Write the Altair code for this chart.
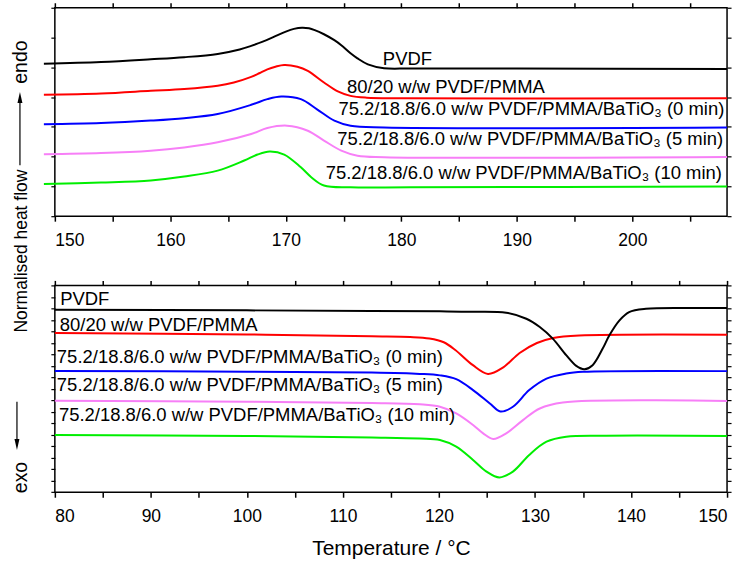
import altair as alt
import pandas as pd

FONT = "Liberation Sans"

SAMPLES = [
    "PVDF",
    "80/20 w/w PVDF/PMMA",
    "75.2/18.8/6.0 w/w PVDF/PMMA/BaTiO₃ (0 min)",
    "75.2/18.8/6.0 w/w PVDF/PMMA/BaTiO₃ (5 min)",
    "75.2/18.8/6.0 w/w PVDF/PMMA/BaTiO₃ (10 min)",
]
COLORS = ["#000000", "#ff0000", "#0000ff", "#f77ff7", "#00ee00"]

# ---- heating scans (melting endotherms), normalised heat flow, offset ----
heat_T_pvdf = [149.05, 154.0, 158.3, 161.2, 164.1, 166.0, 167.0, 168.0, 169.0, 170.0,
               170.7, 171.4, 172.0, 172.5, 173.3, 174.2, 174.8, 175.6, 176.2, 177.1,
               178.5, 180.8, 190.0, 208.2]
heat_q_pvdf = [5.12, 5.18, 5.27, 5.34, 5.45, 5.60, 5.72, 5.86, 6.03, 6.20,
               6.29, 6.33, 6.31, 6.25, 6.11, 5.91, 5.74, 5.47, 5.30, 5.10,
               4.97, 4.96, 4.96, 4.94]

heat_T_blend = [149.05, 154.0, 158.3, 161.2, 164.1, 165.5, 167.0, 167.7, 168.4, 169.1,
                169.85, 171.0, 171.9, 173.3, 174.5, 175.6, 177.0, 180.0, 208.2]
heat_q_blend = [4.08, 4.12, 4.21, 4.27, 4.38, 4.49, 4.68, 4.80, 4.93, 5.02,
                5.08, 5.02, 4.88, 4.49, 4.19, 4.04, 3.98, 3.96, 3.96]

heat_T_bt0 = [149.05, 154.0, 158.3, 161.2, 164.1, 167.0, 168.4, 169.6, 171.3, 172.7,
              174.2, 175.6, 178.5, 208.2]
heat_q_bt0 = [3.09, 3.13, 3.21, 3.29, 3.43, 3.74, 3.93, 4.02, 3.93, 3.59,
              3.21, 3.04, 2.98, 2.98]

heat_T_bt5 = [149.05, 154.0, 158.3, 161.2, 164.1, 167.0, 168.4, 170.1, 171.9, 173.3,
              174.8, 176.2, 178.5, 208.2]
heat_q_bt5 = [2.08, 2.12, 2.20, 2.31, 2.48, 2.76, 2.96, 3.04, 2.87, 2.54,
              2.20, 2.03, 1.98, 1.99]

heat_T_bt10 = [149.05, 154.0, 158.3, 161.2, 164.1, 166.4, 167.55, 168.6, 169.86, 171.3,
               172.2, 173.3, 175.6, 180.8, 208.2]
heat_q_bt10 = [1.08, 1.13, 1.20, 1.33, 1.53, 1.87, 2.07, 2.17, 2.07, 1.64,
               1.31, 1.03, 0.97, 0.97, 1.00]

# ---- cooling scans (crystallisation exotherms) ----
cool_T_pvdf = [80, 100, 113, 120.1, 123.4, 127.0, 129.1, 130.5, 131.85, 133.25,
               134.3, 135.15, 136.0, 137.05, 137.75, 138.8, 139.8, 141.55, 147.1, 150]
cool_q_pvdf = [15.88, 15.83, 15.77, 15.74, 15.71, 15.62, 15.10, 14.38, 13.37, 11.93,
               11.00, 10.71, 11.06, 12.50, 13.66, 14.96, 15.68, 15.97, 16.03, 16.03]

cool_T_blend = [80, 100, 113, 117, 119, 120.5, 121.7, 123.5, 125.1, 126.7, 128.4,
                130.2, 131.9, 134.6, 150]
cool_q_blend = [13.86, 13.73, 13.57, 13.51, 13.38, 13.05, 12.38, 11.08, 10.30, 10.87, 12.12,
                12.99, 13.43, 13.64, 13.71]

cool_T_bt0 = [80, 100, 113, 118, 120.1, 121.8, 123.55, 125.3, 126.4, 127.7,
              129.4, 131.2, 133.25, 135, 150]
cool_q_bt0 = [10.56, 10.49, 10.41, 10.30, 10.17, 9.84, 8.89, 7.72, 7.03, 7.44,
              8.89, 9.89, 10.33, 10.48, 10.54]

cool_T_bt5 = [80, 100, 113, 118, 120.1, 121.8, 123.55, 124.6, 125.65, 127.0,
              128.75, 130.5, 132.9, 150]
cool_q_bt5 = [7.96, 7.87, 7.76, 7.65, 7.44, 6.86, 5.85, 5.12, 4.63, 5.12,
              6.28, 7.29, 7.81, 7.93]

cool_T_bt10 = [80, 100, 113, 118, 120.1, 121.8, 123.55, 124.95, 126.3, 127.7,
               129.4, 131.2, 133.25, 137.4, 150]
cool_q_bt10 = [4.98, 4.90, 4.77, 4.68, 4.55, 3.97, 2.81, 1.80, 1.29, 1.80,
               3.25, 4.40, 4.83, 4.92, 4.90]

# curve labels: left end of the text (T) and its baseline (q)
heat_label_T = [178.4, 175.3, 174.55, 174.45, 173.45]
heat_label_q = [5.07, 4.14, 3.40, 2.38, 1.26]
cool_label_T = [80.55, 80.52, 80.21, 80.21, 80.42]
cool_label_q = [16.26, 14.05, 11.21, 8.78, 6.18]

heat_ticks = [150, 155, 160, 165, 170, 175, 180, 185, 190, 195, 200, 205]
cool_ticks = [80, 85, 90, 95, 100, 105, 110, 115, 120, 125, 130, 135, 140, 145, 150]


def axis(orient, values, labels, title=None, tick=5, tick_w=1.5):
    opts = dict(orient=orient, values=values, tickSize=tick, tickWidth=tick_w,
                tickColor="black", domain=False, grid=False, labels=labels)
    if labels:
        opts.update(labelExpr="datum.value % 10 == 0 ? datum.label : ''",
                    labelFontSize=17.5, labelFont=FONT, labelColor="black",
                    labelPadding=10)
    if title:
        opts.update(title=title, titleFont=FONT, titleFontSize=21,
                    titleFontWeight="normal", titleColor="black", titlePadding=13)
    else:
        opts.update(title=None)
    return alt.Axis(**opts)


def panel(curves, lab_T, lab_q, xdom, xticks, ydom, width, height, xtitle, extras):
    xs = alt.Scale(domain=xdom, nice=False, zero=False)
    ys = alt.Scale(domain=ydom, nice=False, zero=False)
    yticks = list(range(ydom[0], ydom[1] + 1))

    # PVDF rows go last so the black trace is drawn above the coloured ones
    frames = []
    for i in [1, 2, 3, 4, 0]:
        T, q = curves[i]
        frames.append(pd.DataFrame({"T": T, "q": q, "sample": SAMPLES[i]}))
    traces = pd.concat(frames, ignore_index=True)

    lines = alt.Chart(traces).mark_line(strokeWidth=2, interpolate="catmull-rom").encode(
        x=alt.X("T:Q", scale=xs, axis=axis("bottom", xticks, True, xtitle)),
        y=alt.Y("q:Q", scale=ys, axis=axis("left", yticks, False, tick=4, tick_w=1.2)),
        color=alt.Color("sample:N", scale=alt.Scale(domain=SAMPLES, range=COLORS),
                        legend=None),
        detail="sample:N",
    )

    labels = pd.DataFrame({"T": lab_T, "q": lab_q, "name": SAMPLES})
    texts = alt.Chart(labels).mark_text(align="left", baseline="alphabetic", font=FONT,
                                        fontSize=18.5, color="black").encode(
        x=alt.X("T:Q", scale=xs, axis=axis("top", xticks, False)),
        y=alt.Y("q:Q", scale=ys, axis=axis("right", yticks, False, tick=4, tick_w=1.2)),
        text="name:N",
    )
    return alt.layer(lines, texts, *extras).properties(width=width, height=height)


one = pd.DataFrame({"k": [0]})


def anchor(x, y):
    return alt.Chart(one).mark_rule(opacity=0, strokeWidth=0.01).encode(
        x=alt.value(x), x2=alt.value(x + 1), y=alt.value(y), y2=alt.value(y))


def ytext(text, y, size):
    return alt.Chart(one).mark_text(angle=270, align="center", baseline="alphabetic",
                                    font=FONT, fontSize=size, color="black").encode(
        x=alt.value(-27.5), y=alt.value(y), text=alt.value(text))


ARROW_DOWN = "M0,1L-0.45,-1L0.45,-1Z"
ARROW_UP = "M0,-1L-0.45,1L0.45,1Z"


def arrow(x, y1, y2, head_y, shape):
    line = alt.Chart(one).mark_rule(color="black", strokeWidth=1.2).encode(
        x=alt.value(x), y=alt.value(y1), y2=alt.value(y2))
    head = alt.Chart(one).mark_point(shape=shape, filled=True, size=121, color="black",
                                     opacity=1, strokeWidth=0).encode(
        x=alt.value(x), y=alt.value(head_y))
    return [line, head]


top_extras = [
    anchor(-54, -5),
    ytext("endo", 54.5, 19.5),
    ytext("Normalised heat flow", 244, 17.5),
    ytext("exo", 471, 19.5),
] + arrow(-35, 95, 158, 90, ARROW_UP) + arrow(-38, 395, 436, 438, ARROW_DOWN)

bottom_extras = [anchor(689, 283.6)]

heat = panel(
    [(heat_T_pvdf, heat_q_pvdf), (heat_T_blend, heat_q_blend), (heat_T_bt0, heat_q_bt0),
     (heat_T_bt5, heat_q_bt5), (heat_T_bt10, heat_q_bt10)],
    heat_label_T, heat_label_q, [150, 208.2], heat_ticks, [0, 7], 674, 209, None,
    top_extras,
)
cool = panel(
    [(cool_T_pvdf, cool_q_pvdf), (cool_T_blend, cool_q_blend), (cool_T_bt0, cool_q_bt0),
     (cool_T_bt5, cool_q_bt5), (cool_T_bt10, cool_q_bt10)],
    cool_label_T, cool_label_q, [80, 150], cool_ticks, [0, 18], 674, 207.4,
    "Temperature / °C", bottom_extras,
)

chart = (
    alt.vconcat(heat, cool, spacing=69.4, bounds="flush")
    .properties(padding=0)
    .configure_view(stroke="black", strokeWidth=1.5)
)

chart.save("out.html", embed_options={"renderer": "svg", "actions": False})
